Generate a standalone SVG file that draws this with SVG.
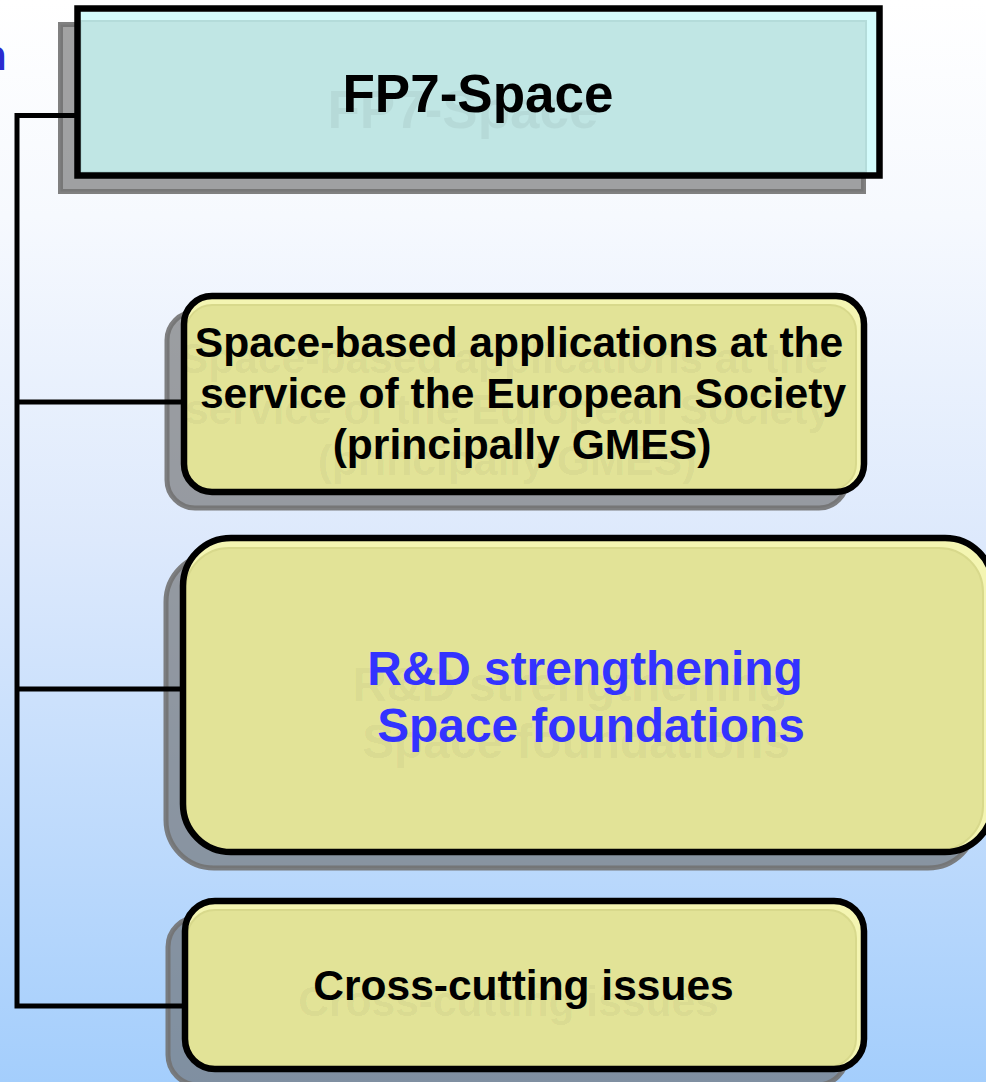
<svg xmlns="http://www.w3.org/2000/svg" width="986" height="1082" viewBox="0 0 986 1082">
<defs>
<linearGradient id="bg" x1="0" y1="0" x2="0" y2="1">
<stop offset="0" stop-color="#ffffff"/>
<stop offset="0.2" stop-color="#f6f9fe"/>
<stop offset="0.5" stop-color="#dde9fc"/>
<stop offset="1" stop-color="#a4cefc"/>
</linearGradient>
<style>
.sh{fill:#696969;fill-opacity:0.62;stroke:#727272;stroke-opacity:0.9;stroke-width:5}
.out{stroke:#000;stroke-width:6.5}
.yl{fill:#f4f5b2}
.yi{fill:#e2e397;stroke:#d8d98c;stroke-width:2}
.cy{fill:#d4fcfc}
.ci{fill:#c0e6e4;stroke:#b4dcda;stroke-width:2}
.t{font-family:"Liberation Sans",Arial,sans-serif;font-weight:bold;text-anchor:middle}
.g{fill:#000;fill-opacity:0.05}
.k{fill:#000}
.b{fill:#3333ff}
.ln{fill:none;stroke:#000;stroke-width:5;stroke-linejoin:miter}
</style>
</defs>
<rect width="986" height="1082" fill="url(#bg)"/>
<text x="-19" y="70" class="t" style="text-anchor:start;font-size:42px;fill:#2b2bd0">n</text>

<g id="node-fp7">
<rect class="sh" x="60.5" y="24.5" width="803" height="167"/>
<rect class="cy" x="77.5" y="8.5" width="802" height="167"/>
<rect class="ci" x="81" y="21" width="785" height="151"/>
<rect class="out" fill="none" x="77.5" y="8.5" width="802" height="167"/>
<text class="t g" x="463" y="128" font-size="53">FP7-Space</text>
<text class="t k" x="478" y="112" font-size="53">FP7-Space</text>
</g>

<g id="node-applications">
<rect class="sh" x="167" y="312" width="680" height="196" rx="28"/>
<rect class="yl" x="184" y="296" width="680" height="196" rx="28"/>
<rect class="yi" x="186" y="305" width="670" height="185" rx="26"/>
<rect class="out" fill="none" x="184" y="296" width="680" height="196" rx="28"/>
<text class="t g" font-size="42.6"><tspan x="504" y="373">Space-based applications at the</tspan><tspan x="508" y="424">service of the European Society</tspan><tspan x="507" y="475">(principally GMES)</tspan></text>
<text class="t k" font-size="42.6"><tspan x="519" y="357">Space-based applications at the</tspan><tspan x="523" y="408">service of the European Society</tspan><tspan x="522" y="459">(principally GMES)</tspan></text>
</g>

<g id="node-rd">
<rect class="sh" x="166" y="554" width="810" height="314" rx="48"/>
<rect class="yl" x="183" y="538" width="810" height="314" rx="48"/>
<rect class="yi" x="185" y="548" width="798" height="302" rx="44"/>
<rect class="out" fill="none" x="183" y="538" width="810" height="314" rx="48"/>
<text class="t g" font-size="47.8"><tspan x="570" y="701">R&amp;D strengthening</tspan><tspan x="576" y="758">Space foundations</tspan></text>
<text class="t b" font-size="47.8"><tspan x="585" y="685">R&amp;D strengthening</tspan><tspan x="591" y="742">Space foundations</tspan></text>
</g>

<g id="node-crosscutting">
<rect class="sh" x="168" y="917" width="679" height="168" rx="30"/>
<rect class="yl" x="185" y="901" width="679" height="168" rx="30"/>
<rect class="yi" x="187" y="910" width="669" height="157" rx="28"/>
<rect class="out" fill="none" x="185" y="901" width="679" height="168" rx="30"/>
<text class="t g" x="508.5" y="1016" font-size="42.5">Cross-cutting issues</text>
<text class="t k" x="523.5" y="1000" font-size="42.5">Cross-cutting issues</text>
</g>

<g id="connectors">
<polyline class="ln" points="77,115.5 17,115.5 17,1006 184,1006"/>
<line class="ln" x1="17" y1="402" x2="183" y2="402"/>
<line class="ln" x1="17" y1="689" x2="182" y2="689"/>
</g>
</svg>
